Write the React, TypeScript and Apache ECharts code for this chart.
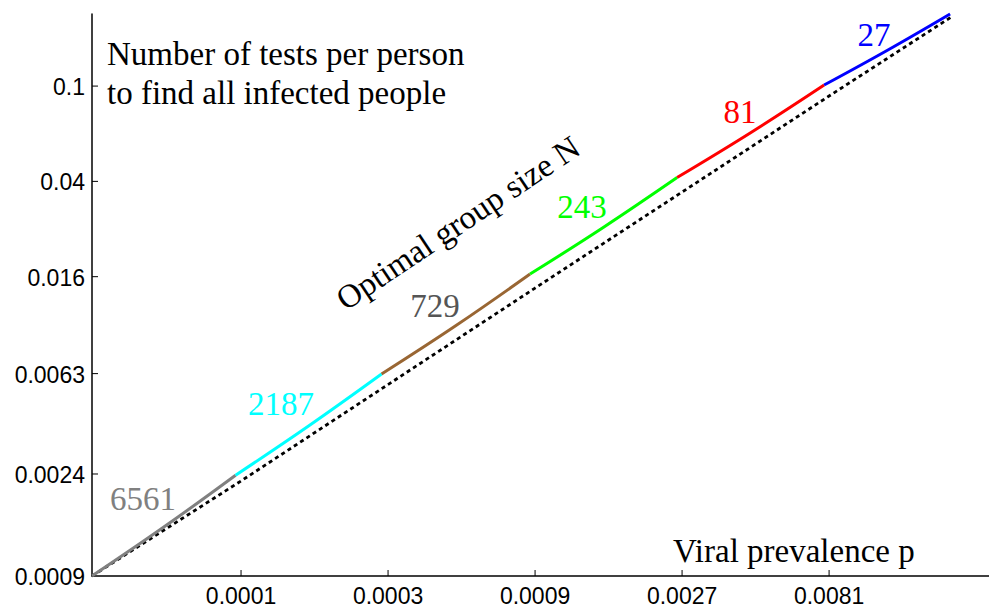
import React, { useEffect, useRef } from "react";
import * as echarts from "echarts";

// Axis tick values and labels
const xTicks = [0.0001, 0.0003, 0.0009, 0.0027, 0.0081];
const xTickLabels = ["0.0001", "0.0003", "0.0009", "0.0027", "0.0081"];
const yTicks = [0.0009, 0.0024, 0.0063, 0.016, 0.04, 0.1];
const yTickLabels = ["0.0009", "0.0024", "0.0063", "0.016", "0.04", "0.1"];

// Axis ranges (log scales)
const xMin = 3.283e-5;
const xMax = 0.02676;
const yMin = 0.0009;
const yMax = 0.2;

// Optimal-group-size curve, one piece per group size N
const groupSizes = ["6561", "2187", "729", "243", "81", "27"];
const groupColors = ["#808080", "#00FFFF", "#996633", "#00FF00", "#FF0000", "#0000FF"];
const labelColors = ["#808080", "#00FFFF", "#555555", "#00FF00", "#FF0000", "#0000FF"];

const p6561 = [3.283e-5, 5.615e-5, 9.6e-5];
const t6561 = [0.0009, 0.001441, 0.002372];
const p2187 = [9.6e-5, 1.656e-4, 2.858e-4];
const t2187 = [0.002372, 0.003806, 0.006275];
const p729 = [2.858e-4, 4.985e-4, 8.67e-4];
const t729 = [0.006275, 0.01, 0.01641];
const p243 = [8.67e-4, 1.502e-3, 2.601e-3];
const t243 = [0.01641, 0.02574, 0.0415];
const p81 = [2.601e-3, 4.506e-3, 7.805e-3];
const t81 = [0.0415, 0.06385, 0.101];
const p27 = [7.805e-3, 0.01249, 0.02001];
const t27 = [0.101, 0.1408, 0.2];

const segmentsP = [p6561, p2187, p729, p243, p81, p27];
const segmentsT = [t6561, t2187, t729, t243, t81, t27];

// Dashed reference line
const pBound = [3.283e-5, 1e-4, 9e-4, 8.1e-3, 0.0204];
const tBound = [0.0009, 0.002244, 0.01434, 0.0909, 0.196];

// Annotation placement (pixels)
const groupLabelPos = [
  [143, 499],
  [281, 404],
  [435, 306],
  [582, 207],
  [740, 112],
  [874, 35],
];

const SERIF = "Liberation Serif";
const SANS = "Liberation Sans";

export default function App() {
  const ref = useRef<HTMLDivElement>(null);

  useEffect(() => {
    if (!ref.current) return;
    const chart = echarts.init(ref.current, undefined, { renderer: "svg" });

    const series: any[] = [];
    series.push({
      type: "line",
      data: pBound.map((p, i) => [p, tBound[i]]),
      symbol: "none",
      clip: false,
      lineStyle: { color: "#000", width: 2.8, type: [4, 3.5] },
      z: 2,
    });
    segmentsP.forEach((ps, k) => {
      series.push({
        type: "line",
        data: ps.map((p, i) => [p, segmentsT[k][i]]),
        symbol: "none",
        smooth: 0.4,
        clip: false,
        lineStyle: { color: groupColors[k], width: 3, cap: "butt" },
        z: 3,
      });
    });

    chart.setOption({
      animation: false,
      grid: { left: 92, right: 0, top: 14, bottom: 31, containLabel: false },
      xAxis: {
        type: "log",
        min: xMin,
        max: xMax,
        axisLine: { show: true, lineStyle: { color: "#000", width: 1.5 } },
        axisTick: { show: false },
        axisLabel: { show: false },
        splitLine: { show: false },
        minorTick: { show: false },
      },
      yAxis: {
        type: "log",
        min: yMin,
        max: yMax,
        axisLine: { show: true, lineStyle: { color: "#000", width: 1.5 } },
        axisTick: { show: false },
        axisLabel: { show: false },
        splitLine: { show: false },
        minorTick: { show: false },
      },
      series,
    });

    const graphics: any[] = [];
    const x0 = chart.convertToPixel({ xAxisIndex: 0 }, xMin) as number;
    const y0 = chart.convertToPixel({ yAxisIndex: 0 }, yMin) as number;

    xTicks.forEach((v, i) => {
      const px = chart.convertToPixel({ xAxisIndex: 0 }, v) as number;
      graphics.push({
        type: "line",
        shape: { x1: px, y1: y0, x2: px, y2: y0 - 6 },
        style: { stroke: "#000", lineWidth: 1 },
        silent: true,
      });
      graphics.push({
        type: "text",
        x: px,
        y: y0 + 19.5,
        style: {
          text: xTickLabels[i],
          fill: "#000",
          fontFamily: SANS,
          fontSize: 23,
          align: "center",
          verticalAlign: "middle",
        },
        silent: true,
      });
    });

    yTicks.forEach((v, i) => {
      const py = chart.convertToPixel({ yAxisIndex: 0 }, v) as number;
      if (i > 0) {
        graphics.push({
          type: "line",
          shape: { x1: x0, y1: py, x2: x0 + 6, y2: py },
          style: { stroke: "#000", lineWidth: 1 },
          silent: true,
        });
      }
      graphics.push({
        type: "text",
        x: x0 - 7,
        y: py + 1,
        style: {
          text: yTickLabels[i],
          fill: "#000",
          fontFamily: SANS,
          fontSize: 23,
          align: "right",
          verticalAlign: "middle",
        },
        silent: true,
      });
    });

    groupSizes.forEach((g, k) => {
      graphics.push({
        type: "text",
        x: groupLabelPos[k][0],
        y: groupLabelPos[k][1],
        style: {
          text: g,
          fill: labelColors[k],
          fontFamily: SERIF,
          fontSize: 33,
          align: "center",
          verticalAlign: "middle",
        },
        silent: true,
      });
    });

    const textStyle = (text: string, align: string) => ({
      text,
      fill: "#000",
      fontFamily: SERIF,
      fontSize: 33,
      align,
      verticalAlign: "middle",
    });

    graphics.push({ type: "text", x: 107, y: 54, style: textStyle("Number of tests per person", "left"), silent: true });
    graphics.push({ type: "text", x: 107, y: 92.5, style: textStyle("to find all infected people", "left"), silent: true });
    graphics.push({ type: "text", x: 673, y: 550.5, style: textStyle("Viral prevalence p", "left"), silent: true });
    graphics.push({
      type: "text",
      x: 458,
      y: 223,
      rotation: (33.8 * Math.PI) / 180,
      style: textStyle("Optimal group size N", "center"),
      silent: true,
    });

    chart.setOption({ graphic: graphics });

    return () => {
      chart.dispose();
    };
  }, []);

  return (
    <div
      ref={ref}
      style={{ position: "fixed", left: 0, top: 0, width: 989, height: 607, background: "#fff" }}
    />
  );
}
